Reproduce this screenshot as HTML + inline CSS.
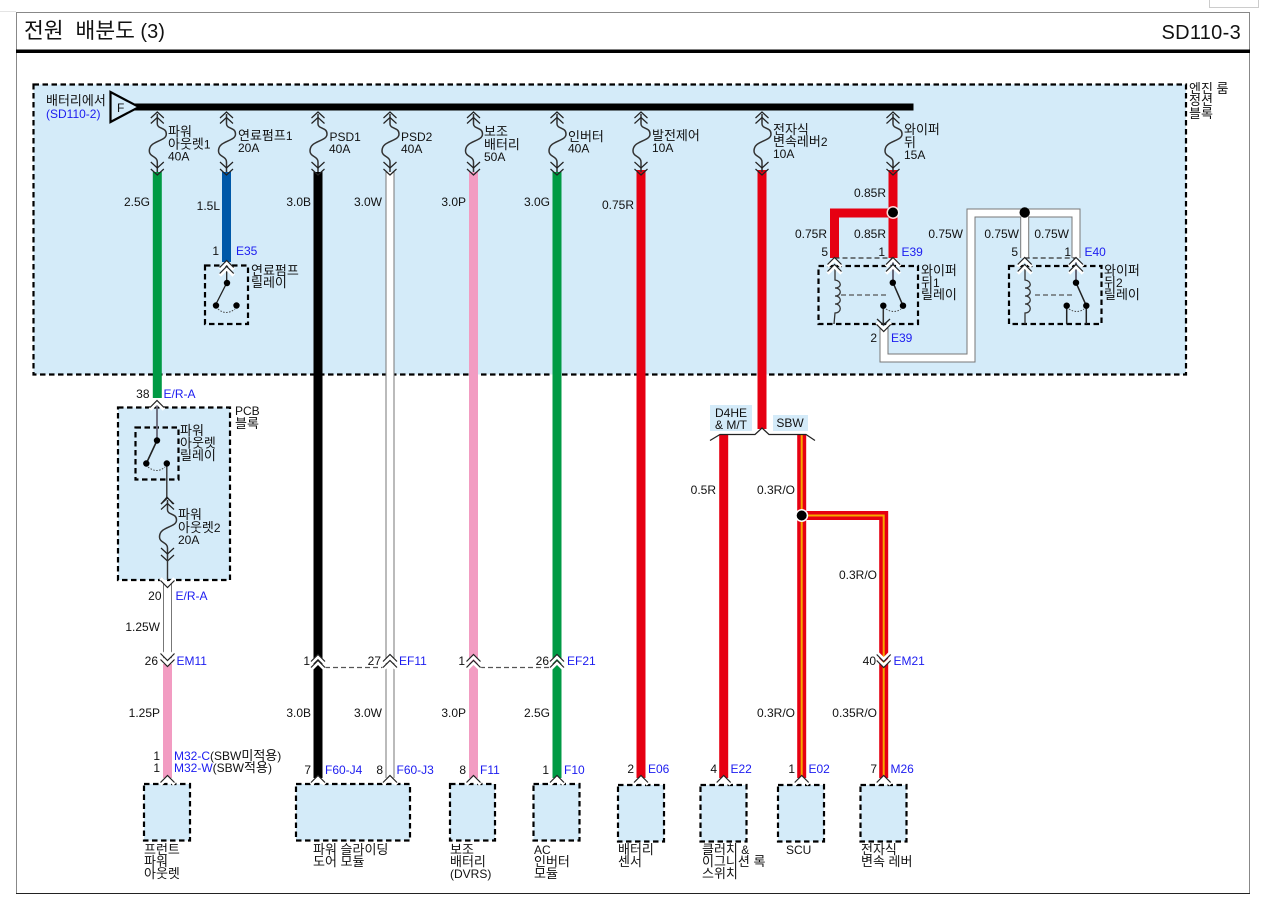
<!DOCTYPE html>
<html><head><meta charset="utf-8">
<style>
html,body{margin:0;padding:0;background:#fff;width:1265px;height:908px;overflow:hidden}
svg{display:block;position:absolute;left:0;top:0}
text{font-family:"Liberation Sans","Noto Sans CJK KR",sans-serif;font-size:12px;fill:#111}
.k{font-size:13px}
.b{fill:#1c1cf0}
.e{text-anchor:end}
.t{font-size:20px}
.box{fill:#d4ebf9;stroke:#000;stroke-width:2.2;stroke-dasharray:5.5 3.5}
.in{fill:none;stroke:#000;stroke-width:2.2;stroke-dasharray:5.5 3.5}
.w{fill:none;stroke-linejoin:miter}
.th{fill:none;stroke:#222;stroke-width:1.3}
.gd{fill:none;stroke:#555;stroke-width:1.3;stroke-dasharray:5 3}
.kd{fill:none;stroke:#333;stroke-width:1.2;stroke-dasharray:5 3}
</style></head><body>
<svg width="1265" height="908" viewBox="0 0 1265 908" xmlns="http://www.w3.org/2000/svg">
<defs>
<g id="cu"><path d="M-7 7 L0 0 L7 7" fill="none" stroke="#fff" stroke-width="3.5" transform="translate(0,1.5)"/><path d="M-7 6.5 L0 -.5 L7 6.5" fill="none" stroke="#222" stroke-width="1.2"/></g>
<g id="cd"><path d="M-7 -7 L0 0 L7 -7" fill="none" stroke="#fff" stroke-width="3.5" transform="translate(0,-1.5)"/><path d="M-7 -6.5 L0 .5 L7 -6.5" fill="none" stroke="#222" stroke-width="1.2"/></g>
<g id="fuse">
<path d="M0 2 V12 C0 17 9 15 9 22 C9 30 -8 28 -8 39 C-8 45 0 44 0 50 V60" fill="none" stroke="#333" stroke-width="1.5"/>
<path d="M-6.5 6 L0 0 L6.5 6 M-6.5 11.5 L0 5.5 L6.5 11.5" fill="none" stroke="#222" stroke-width="1.2"/>
<path d="M-6.5 50 L0 56 L6.5 50" fill="none" stroke="#222" stroke-width="1.2"/>
<path d="M-6.5 57 L0 63 L6.5 57" fill="none" stroke="#222" stroke-width="1.2"/>
</g>
</defs>

<!-- page chrome -->
<path d="M0 11.5H16" stroke="#e4e4e4" fill="none"/>
<path d="M1209.5 0V7.5H1258.5V0" fill="#fff" stroke="#ccc"/>
<rect x="16.5" y="12.5" width="1233" height="881" fill="#fff" stroke="#888"/>
<path d="M16 893.5H1250" stroke="#222" stroke-width="1"/>
<rect x="16" y="49.5" width="1234" height="3.5" fill="#000"/>
<text x="24" y="38" class="t"><tspan style="font-size:21.5px;word-spacing:6px">전원 배분도</tspan> (3)</text>
<text x="1241" y="39" class="t e" style="letter-spacing:.3px">SD110-3</text>

<!-- blocks -->
<rect x="33.5" y="84.5" width="1152.5" height="290" class="box"/>
<rect x="118" y="407.5" width="112" height="172.5" class="box"/>
<rect x="144" y="784" width="46" height="56.5" class="box"/>
<rect x="296" y="784" width="114" height="56.5" class="box"/>
<rect x="450" y="784" width="45" height="56.5" class="box"/>
<rect x="533.5" y="784" width="46" height="56.5" class="box"/>
<rect x="618" y="785" width="46" height="56.5" class="box"/>
<rect x="700.5" y="785" width="46" height="56.5" class="box"/>
<rect x="778" y="785" width="46" height="56.5" class="box"/>
<rect x="860.5" y="785" width="46" height="56.5" class="box"/>

<!-- bus -->
<rect x="130" y="103.5" width="783.5" height="7" fill="#000"/>
<path d="M110.5 92 L139 107 L110.5 122 Z" fill="#d4ebf9" stroke="#000" stroke-width="2.2"/>

<!-- wires -->
<g class="w">
<path d="M157.3 172V398" stroke="#009a44" stroke-width="9"/>
<path d="M226.5 172V262" stroke="#0058a8" stroke-width="9"/>
<path d="M318 172V778" stroke="#000" stroke-width="9"/>
<path d="M390 172V778" stroke="#777" stroke-width="9"/><path d="M390 172V778" stroke="#fff" stroke-width="7"/>
<path d="M473.5 172V778" stroke="#f29cc2" stroke-width="9"/>
<path d="M557 172V778" stroke="#009a44" stroke-width="9"/>
<path d="M641 170V778" stroke="#e60012" stroke-width="9"/>
<path d="M762 170V429" stroke="#e60012" stroke-width="9"/>
<path d="M723.7 435V778" stroke="#e60012" stroke-width="9"/>
<path d="M167.5 582V660" stroke="#777" stroke-width="9"/><path d="M167.5 582V660" stroke="#fff" stroke-width="7"/>
<path d="M167.5 664V778" stroke="#f29cc2" stroke-width="9"/>
<path d="M801.7 435V778" stroke="#e60012" stroke-width="9"/><path d="M801.7 435V778" stroke="#f7a600" stroke-width="2"/>
<path d="M801.7 515.5H883.7V778" stroke="#e60012" stroke-width="9"/><path d="M801.7 515.5H883.7V778" stroke="#f7a600" stroke-width="2"/>
<path d="M893 170V258" stroke="#e60012" stroke-width="9"/>
<path d="M893 213H834.5V258" stroke="#e60012" stroke-width="9"/>
<path d="M1024.7 213V258M1024.7 213H1076V258M1024.7 213H971V358H884V328" stroke="#777" stroke-width="9"/>
<path d="M1024.7 213V258M1024.7 213H1076V258M1024.7 213H971V358H884V328" stroke="#fff" stroke-width="7"/>
</g>

<!-- junctions -->
<circle cx="893" cy="212.5" r="6.5" fill="#fff" opacity=".85"/><circle cx="893" cy="212.5" r="5" fill="#000"/>
<circle cx="1024.7" cy="212.5" r="5.2" fill="#000"/>
<circle cx="801.7" cy="515.5" r="6.5" fill="#fff"/><circle cx="801.7" cy="515.5" r="5" fill="#000"/>

<!-- fuses -->
<use href="#fuse" x="157.3" y="112"/>
<use href="#fuse" x="226.5" y="112"/>
<use href="#fuse" x="318" y="112"/>
<use href="#fuse" x="390" y="112"/>
<use href="#fuse" x="473.5" y="112"/>
<use href="#fuse" x="557" y="112"/>
<use href="#fuse" x="641" y="112"/>
<use href="#fuse" x="762" y="112"/>
<use href="#fuse" x="893" y="112"/>
<use href="#fuse" x="167.5" y="498"/>

<!-- fuel relay -->
<rect x="205" y="265.5" width="43" height="58.5" class="in"/>
<path d="M226.7 262V283L215.5 305" class="th"/>
<circle cx="227" cy="283" r="3.2" fill="#000"/><circle cx="216" cy="305.5" r="3.2" fill="#000"/><circle cx="236.5" cy="305.5" r="3.2" fill="#000"/>
<path d="M218 309 Q226 316 235 309" fill="none" stroke="#444" stroke-dasharray="1.5 1.5"/>
<use href="#cu" x="226.7" y="261"/>
<use href="#cu" x="226.7" y="267"/>

<!-- PCB relay -->
<rect x="135.5" y="427.5" width="43" height="52" class="in"/>
<path d="M157 403V440.5" stroke="#667" stroke-width="1.8" fill="none"/>
<path d="M157 440.5L146.3 463.5" stroke="#222" stroke-width="1.6" fill="none"/>
<path d="M166.8 463.5V498M167.5 558V580" stroke="#333" stroke-width="1.4" fill="none"/>
<circle cx="157" cy="440.5" r="3.2" fill="#000"/><circle cx="146.3" cy="463.5" r="3.2" fill="#000"/><circle cx="166.8" cy="463.5" r="3.2" fill="#000"/>
<path d="M148 467 Q157 474 165 467" fill="none" stroke="#444" stroke-dasharray="1.5 1.5"/>
<path d="M161 504L167 497L173 504" fill="none" stroke="#222" stroke-width="1.2"/>
<use href="#cu" x="157" y="401"/>
<use href="#cd" x="167.5" y="587"/>
<use href="#cd" x="167.5" y="666"/>
<use href="#cd" x="167.5" y="660"/>

<!-- relay 1 -->
<rect x="818.5" y="266" width="99.5" height="58" class="in"/>
<path d="M834.5 258H893" class="kd"/>
<path d="M835 268V280 C842 281 842 288 835 288 C842 288 842 296 835 296 C842 296 842 304 835 304 C842 304 842 313 835 313 L834 324" fill="none" stroke="#333" stroke-width="1.3"/>
<path d="M841 295H888" class="gd"/>
<path d="M893 262V282.7" stroke="#667" stroke-width="2" fill="none"/>
<path d="M893 282.7L903 305.7" stroke="#222" stroke-width="1.5" fill="none"/>
<path d="M883.3 305.7V325" stroke="#333" stroke-width="1.5" fill="none"/>
<circle cx="892.8" cy="282.7" r="3.2" fill="#000"/><circle cx="903" cy="305.7" r="3.2" fill="#000"/><circle cx="883.3" cy="305.7" r="3.2" fill="#000"/>
<path d="M886 309 Q894 314 901 309" fill="none" stroke="#444" stroke-dasharray="1.5 1.5"/>
<use href="#cu" x="834.5" y="258"/><use href="#cu" x="834.5" y="265"/>
<use href="#cu" x="893" y="258"/><use href="#cu" x="893" y="265"/>
<path d="M877 319L883.5 325L890 319" fill="none" stroke="#222" stroke-width="1.2"/>
<use href="#cd" x="883.7" y="331"/>

<!-- relay 2 -->
<rect x="1009" y="266" width="92.5" height="58" class="in"/>
<path d="M1024.7 258H1076" class="kd"/>
<path d="M1025 268V280 C1032 281 1032 288 1025 288 C1032 288 1032 296 1025 296 C1032 296 1032 304 1025 304 C1032 304 1032 313 1025 313 V324" fill="none" stroke="#333" stroke-width="1.3"/>
<path d="M1035 295H1072" class="gd"/>
<path d="M1076 262V282.7" stroke="#667" stroke-width="2" fill="none"/>
<path d="M1076 282.7L1086.3 305.7V324M1066.7 305.7V324" stroke="#222" stroke-width="1.5" fill="none"/>
<circle cx="1076" cy="282.7" r="3.2" fill="#000"/><circle cx="1086.3" cy="305.7" r="3.2" fill="#000"/><circle cx="1066.7" cy="305.7" r="3.2" fill="#000"/>
<path d="M1069 309 Q1077 314 1084 309" fill="none" stroke="#444" stroke-dasharray="1.5 1.5"/>
<use href="#cu" x="1024.7" y="258"/><use href="#cu" x="1024.7" y="265"/>
<use href="#cu" x="1076" y="258"/><use href="#cu" x="1076" y="265"/>

<!-- mid connectors -->
<path d="M325 667.5H383M480 667.5H550" class="gd"/>
<use href="#cu" x="318" y="655"/><use href="#cu" x="318" y="661"/>
<use href="#cu" x="390" y="655"/><use href="#cu" x="390" y="661"/>
<use href="#cu" x="473.5" y="655"/><use href="#cu" x="473.5" y="661"/>
<use href="#cu" x="557" y="655"/><use href="#cu" x="557" y="661"/>
<use href="#cd" x="883.7" y="661"/><use href="#cd" x="883.7" y="667"/>

<!-- bottom connectors -->
<use href="#cu" x="167.5" y="776"/><use href="#cu" x="318" y="776"/><use href="#cu" x="390" y="776"/>
<use href="#cu" x="473.5" y="776"/><use href="#cu" x="557" y="776"/><use href="#cu" x="641" y="776"/>
<use href="#cu" x="723.7" y="776"/><use href="#cu" x="801.7" y="776"/><use href="#cu" x="883.7" y="776"/>

<!-- split -->
<path d="M710 440.5L720 434.5H755L762 428L769 434.5H806L815 440.5" fill="none" stroke="#222" stroke-width="1.2"/>
<rect x="710" y="405" width="42" height="26" fill="#d4ebf9"/>
<rect x="773" y="415" width="35" height="16" fill="#d4ebf9"/>
<text x="731" y="417" text-anchor="middle">D4HE</text>
<text x="731" y="429" text-anchor="middle">&amp; M/T</text>
<text x="790" y="427" text-anchor="middle">SBW</text>

<!-- labels -->
<text x="46" y="105" class="k">배터리에서</text><text x="46" y="118" class="b">(SD110-2)</text>
<text x="117" y="112">F</text>
<text x="168" y="136" class="k">파워</text><text x="168" y="148.5"><tspan class="k">아웃렛</tspan>1</text><text x="168" y="160.5">40A</text>
<text x="238" y="140"><tspan class="k">연료펌프</tspan>1</text><text x="238" y="152">20A</text>
<text x="329.5" y="141">PSD1</text><text x="329" y="153">40A</text>
<text x="401" y="141">PSD2</text><text x="401" y="153">40A</text>
<text x="484" y="136" class="k">보조</text><text x="484" y="149" class="k">배터리</text><text x="484" y="161">50A</text>
<text x="568" y="141" class="k">인버터</text><text x="568" y="152.5">40A</text>
<text x="652" y="140" class="k">발전제어</text><text x="652" y="152">10A</text>
<text x="773" y="134" class="k">전자식</text><text x="773" y="146"><tspan class="k">변속레버</tspan>2</text><text x="773" y="158">10A</text>
<text x="904" y="134" class="k">와이퍼</text><text x="904" y="147" class="k">뒤</text><text x="904" y="159">15A</text>
<text x="1189" y="93" class="k">엔진 룸</text><text x="1189" y="105" class="k">정션</text><text x="1189" y="118" class="k">블록</text>

<text x="150" y="206" class="e">2.5G</text>
<text x="220" y="210" class="e">1.5L</text>
<text x="311" y="206" class="e">3.0B</text>
<text x="382" y="206" class="e">3.0W</text>
<text x="466" y="206" class="e">3.0P</text>
<text x="550" y="206" class="e">3.0G</text>
<text x="634" y="209" class="e">0.75R</text>
<text x="886" y="197" class="e">0.85R</text>
<text x="827" y="238" class="e">0.75R</text>
<text x="886" y="238" class="e">0.85R</text>
<text x="963" y="238" class="e">0.75W</text>
<text x="1019" y="238" class="e">0.75W</text>
<text x="1069" y="238" class="e">0.75W</text>

<text x="219" y="255" class="e">1</text><text x="236" y="255" class="b">E35</text>
<text x="828" y="256" class="e">5</text><text x="885" y="256" class="e">1</text><text x="901.5" y="256" class="b">E39</text>
<text x="877" y="342" class="e">2</text><text x="891" y="342" class="b">E39</text>
<text x="1018" y="256" class="e">5</text><text x="1071" y="256" class="e">1</text><text x="1084.5" y="256" class="b">E40</text>
<text x="251" y="275" class="k">연료펌프</text><text x="251" y="287" class="k">릴레이</text>
<text x="921" y="275" class="k">와이퍼</text><text x="921" y="287"><tspan class="k">뒤</tspan>1</text><text x="921" y="299" class="k">릴레이</text>
<text x="1104" y="275" class="k">와이퍼</text><text x="1104" y="287"><tspan class="k">뒤</tspan>2</text><text x="1104" y="299" class="k">릴레이</text>

<text x="149.5" y="398" class="e">38</text><text x="163.5" y="398" class="b">E/R-A</text>
<text x="235" y="415">PCB</text><text x="235" y="428" class="k">블록</text>
<text x="180" y="435" class="k">파워</text><text x="180" y="447.5" class="k">아웃렛</text><text x="180" y="460" class="k">릴레이</text>
<text x="178" y="519" class="k">파워</text><text x="178" y="532"><tspan class="k">아웃렛</tspan>2</text><text x="178" y="544">20A</text>
<text x="161.5" y="600" class="e">20</text><text x="175.5" y="600" class="b">E/R-A</text>
<text x="160" y="631" class="e">1.25W</text>
<text x="158" y="665" class="e">26</text><text x="176.5" y="665" class="b">EM11</text>
<text x="160" y="717" class="e">1.25P</text>
<text x="160" y="760" class="e">1</text><text x="160" y="772" class="e">1</text>
<text x="174" y="760"><tspan class="b">M32-C</tspan>(SBW<tspan class="k">미적용</tspan>)</text>
<text x="174" y="772"><tspan class="b">M32-W</tspan>(SBW<tspan class="k">적용</tspan>)</text>

<text x="310" y="665" class="e">1</text>
<text x="381" y="665" class="e">27</text><text x="399" y="665" class="b">EF11</text>
<text x="465" y="665" class="e">1</text>
<text x="549" y="665" class="e">26</text><text x="567" y="665" class="b">EF21</text>
<text x="876" y="665" class="e">40</text><text x="893.5" y="665" class="b">EM21</text>

<text x="311" y="717" class="e">3.0B</text>
<text x="382" y="717" class="e">3.0W</text>
<text x="466" y="717" class="e">3.0P</text>
<text x="550" y="717" class="e">2.5G</text>
<text x="795" y="717" class="e">0.3R/O</text>
<text x="877" y="717" class="e">0.35R/O</text>
<text x="716" y="494" class="e">0.5R</text>
<text x="795" y="494" class="e">0.3R/O</text>
<text x="877" y="579" class="e">0.3R/O</text>

<text x="311" y="774" class="e">7</text><text x="325" y="774" class="b">F60-J4</text>
<text x="383" y="774" class="e">8</text><text x="396.5" y="774" class="b">F60-J3</text>
<text x="466" y="774" class="e">8</text><text x="480" y="774" class="b">F11</text>
<text x="549" y="774" class="e">1</text><text x="564" y="774" class="b">F10</text>
<text x="634" y="773" class="e">2</text><text x="648" y="773" class="b">E06</text>
<text x="717" y="773" class="e">4</text><text x="730.5" y="773" class="b">E22</text>
<text x="795" y="773" class="e">1</text><text x="808.5" y="773" class="b">E02</text>
<text x="877" y="773" class="e">7</text><text x="890.5" y="773" class="b">M26</text>

<text x="144" y="854" class="k">프런트</text><text x="144" y="866" class="k">파워</text><text x="144" y="878" class="k">아웃렛</text>
<text x="313" y="854" class="k">파워 슬라이딩</text><text x="313" y="866" class="k">도어 모듈</text>
<text x="450" y="854" class="k">보조</text><text x="450" y="866" class="k">배터리</text><text x="450" y="878">(DVRS)</text>
<text x="534" y="854">AC</text><text x="534" y="866" class="k">인버터</text><text x="534" y="878" class="k">모듈</text>
<text x="618" y="854" class="k">배터리</text><text x="618" y="866" class="k">센서</text>
<text x="702" y="854"><tspan class="k">클러치</tspan> &amp;</text><text x="702" y="866" class="k">이그니션 록</text><text x="702" y="878" class="k">스위치</text>
<text x="786" y="854">SCU</text>
<text x="861" y="854" class="k">전자식</text><text x="861" y="866" class="k">변속 레버</text>
</svg>
</body></html>
